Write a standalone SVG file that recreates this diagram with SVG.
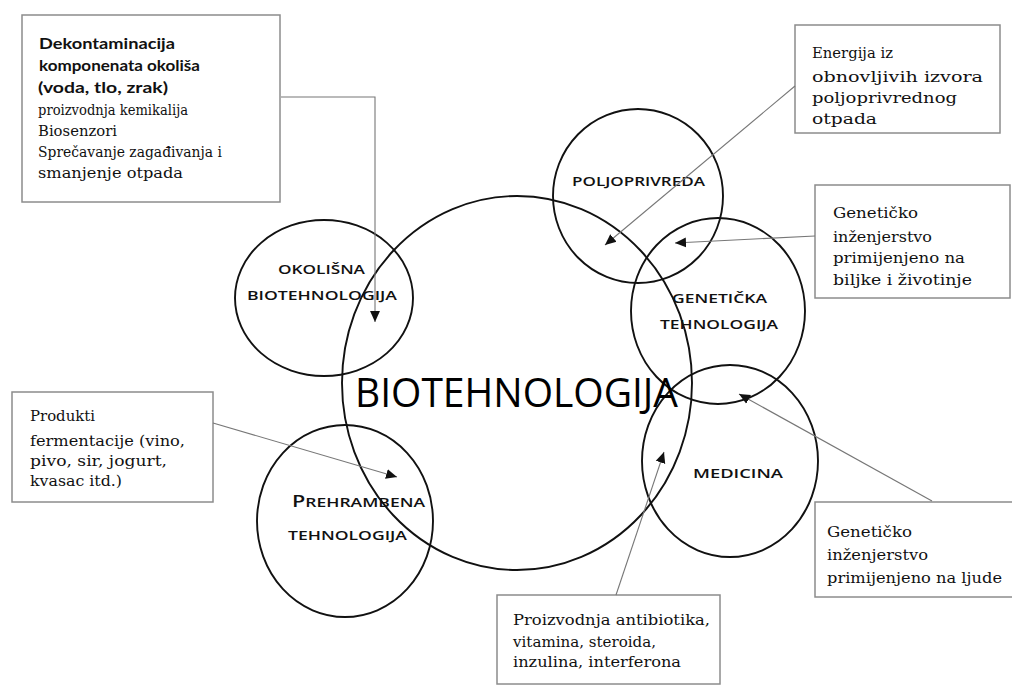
<svg xmlns="http://www.w3.org/2000/svg" width="1012" height="685" viewBox="0 0 1012 685">
<style>
.bg{fill:#fff}
.circ{fill:none;stroke:#111;stroke-width:1.9}
.box{fill:#fff;stroke:#8c8c8c;stroke-width:1.5}
.con{fill:none;stroke:#777;stroke-width:1.1}
.lbl{font-family:"Open Sans","Liberation Sans",sans-serif;font-size:13px;font-weight:600;fill:#111}
.big{font-family:"Open Sans","Liberation Sans",sans-serif;font-size:40px;fill:#000}
.ser{font-family:"DejaVu Serif","Liberation Serif",serif;font-size:15px;fill:#111}
.bsans{font-family:"Lato","Liberation Sans",sans-serif;font-size:15px;font-weight:bold;fill:#111}
</style>
<defs>
<marker id="ah" viewBox="0 0 10 10" refX="10" refY="5" markerWidth="11" markerHeight="11" markerUnits="userSpaceOnUse" orient="auto">
<path d="M0,0.5 L10,5 L0,9.5 z" fill="#111"/>
</marker>
</defs>
<rect class="bg" x="0" y="0" width="1012" height="685"/>

<g id="circles">
<g id="main"><ellipse class="circ" cx="517" cy="383" rx="175" ry="187"/></g>
<g id="okolisna"><ellipse class="circ" cx="324" cy="298" rx="89" ry="78"/></g>
<g id="poljoprivreda"><ellipse class="circ" cx="638" cy="196" rx="85" ry="87"/></g>
<g id="geneticka"><ellipse class="circ" cx="718" cy="311" rx="87" ry="93"/></g>
<g id="medicina"><ellipse class="circ" cx="730" cy="461" rx="88" ry="96"/></g>
<g id="prehrambena"><ellipse class="circ" cx="345" cy="521" rx="88" ry="96"/></g>
</g>

<g id="circle-labels">
<text class="big" x="355" y="407" textLength="323" lengthAdjust="spacingAndGlyphs">BIOTEHNOLOGIJA</text>
<text class="lbl" x="278" y="274" textLength="87" lengthAdjust="spacingAndGlyphs">OKOLIŠNA</text>
<text class="lbl" x="247" y="300" textLength="150" lengthAdjust="spacingAndGlyphs">BIOTEHNOLOGIJA</text>
<text class="lbl" x="572" y="186" textLength="133" lengthAdjust="spacingAndGlyphs">POLJOPRIVREDA</text>
<text class="lbl" x="672" y="303" textLength="95" lengthAdjust="spacingAndGlyphs">GENETIČKA</text>
<text class="lbl" x="660" y="329" textLength="118" lengthAdjust="spacingAndGlyphs">TEHNOLOGIJA</text>
<text class="lbl" x="693" y="478" textLength="90" lengthAdjust="spacingAndGlyphs">MEDICINA</text>
<text class="lbl" x="292" y="507" textLength="133" lengthAdjust="spacingAndGlyphs"><tspan font-size="16">P</tspan>REHRAMBENA</text>
<text class="lbl" x="288" y="540" textLength="119" lengthAdjust="spacingAndGlyphs">TEHNOLOGIJA</text>
</g>

<g id="box-okolis">
<rect class="box" x="22" y="15" width="258" height="187"/>
<text class="bsans" x="39" y="49" textLength="136" lengthAdjust="spacingAndGlyphs">Dekontaminacija</text>
<text class="bsans" x="39" y="71" textLength="161" lengthAdjust="spacingAndGlyphs">komponenata okoliša</text>
<text class="bsans" x="38" y="93" textLength="130" lengthAdjust="spacingAndGlyphs">(voda, tlo, zrak)</text>
<text class="ser" x="38" y="115" textLength="150" lengthAdjust="spacingAndGlyphs">proizvodnja kemikalija</text>
<text class="ser" x="38" y="136" textLength="79" lengthAdjust="spacingAndGlyphs">Biosenzori</text>
<text class="ser" x="38" y="157" textLength="184" lengthAdjust="spacingAndGlyphs">Sprečavanje zagađivanja i</text>
<text class="ser" x="38" y="178" textLength="145" lengthAdjust="spacingAndGlyphs">smanjenje otpada</text>
</g>

<g id="box-energija">
<rect class="box" x="795" y="25" width="205" height="108"/>
<text class="ser" x="812" y="58" textLength="81" lengthAdjust="spacingAndGlyphs">Energija iz</text>
<text class="ser" x="812" y="82" textLength="171" lengthAdjust="spacingAndGlyphs">obnovljivih izvora</text>
<text class="ser" x="812" y="103" textLength="145" lengthAdjust="spacingAndGlyphs">poljoprivrednog</text>
<text class="ser" x="812" y="124" textLength="65" lengthAdjust="spacingAndGlyphs">otpada</text>
</g>

<g id="box-biljke">
<rect class="box" x="815" y="185" width="195" height="113"/>
<text class="ser" x="833" y="218" textLength="85" lengthAdjust="spacingAndGlyphs">Genetičko</text>
<text class="ser" x="833" y="242" textLength="99" lengthAdjust="spacingAndGlyphs">inženjerstvo</text>
<text class="ser" x="833" y="263" textLength="132" lengthAdjust="spacingAndGlyphs">primijenjeno na</text>
<text class="ser" x="833" y="285" textLength="139" lengthAdjust="spacingAndGlyphs">biljke i životinje</text>
</g>

<g id="box-fermentacija">
<rect class="box" x="12" y="392" width="201" height="110"/>
<text class="ser" x="30" y="421" textLength="65" lengthAdjust="spacingAndGlyphs">Produkti</text>
<text class="ser" x="30" y="446" textLength="155" lengthAdjust="spacingAndGlyphs">fermentacije (vino,</text>
<text class="ser" x="30" y="466" textLength="137" lengthAdjust="spacingAndGlyphs">pivo, sir, jogurt,</text>
<text class="ser" x="30" y="486" textLength="92" lengthAdjust="spacingAndGlyphs">kvasac itd.)</text>
</g>

<g id="box-ljude">
<rect class="box" x="815" y="502" width="205" height="95"/>
<text class="ser" x="827" y="537" textLength="85" lengthAdjust="spacingAndGlyphs">Genetičko</text>
<text class="ser" x="827" y="560" textLength="101" lengthAdjust="spacingAndGlyphs">inženjerstvo</text>
<text class="ser" x="827" y="583" textLength="175" lengthAdjust="spacingAndGlyphs">primijenjeno na ljude</text>
</g>

<g id="box-proizvodnja">
<rect class="box" x="497" y="595" width="223" height="89"/>
<text class="ser" x="513" y="625" textLength="197" lengthAdjust="spacingAndGlyphs">Proizvodnja antibiotika,</text>
<text class="ser" x="513" y="647" textLength="143" lengthAdjust="spacingAndGlyphs">vitamina, steroida,</text>
<text class="ser" x="513" y="667" textLength="168" lengthAdjust="spacingAndGlyphs">inzulina, interferona</text>
</g>

<g id="connectors">
<polyline class="con" points="281,97 375,97 375,322" marker-end="url(#ah)"/>
<line class="con" x1="795" y1="86" x2="605" y2="245" marker-end="url(#ah)"/>
<line class="con" x1="815" y1="236" x2="675" y2="243" marker-end="url(#ah)"/>
<line class="con" x1="932" y1="501" x2="739" y2="394" marker-end="url(#ah)"/>
<line class="con" x1="616" y1="595" x2="664" y2="452" marker-end="url(#ah)"/>
<line class="con" x1="213" y1="423" x2="397" y2="477" marker-end="url(#ah)"/>
</g>
</svg>
